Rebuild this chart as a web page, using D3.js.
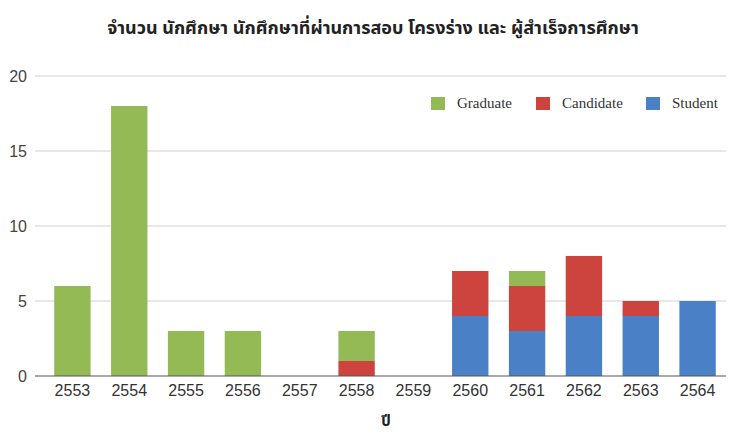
<!DOCTYPE html>
<html>
<head>
<meta charset="utf-8">
<script src="https://d3js.org/d3.v7.min.js"></script>
<style>
  body { margin: 0; background: #fff; }
</style>
</head>
<body>
<script>
var years = ["2553", "2554", "2555", "2556", "2557", "2558", "2559", "2560", "2561", "2562", "2563", "2564"];
var student   = [0, 0, 0, 0, 0, 0, 0, 4, 3, 4, 4, 5];
var candidate = [0, 0, 0, 0, 0, 1, 0, 3, 3, 4, 1, 0];
var graduate  = [6, 18, 3, 3, 0, 2, 0, 0, 1, 0, 0, 0];
var yTicks = [0, 5, 10, 15, 20];
var seriesNames = ["Student", "Candidate", "Graduate"];
var colors = { Student: "#4a80c6", Candidate: "#cc443d", Graduate: "#93ba55" };

var w = 729, h = 435;
var mLeft = 35, mRight = 726, mTop = 76, mBottom = 376;

var rows = years.map(function(yr, i) {
  return { year: yr, Student: student[i], Candidate: candidate[i], Graduate: graduate[i] };
});
var stack = d3.stack().keys(seriesNames)(rows);

var x = d3.scaleBand().domain(years).range([44, mRight]).paddingInner(0.36).paddingOuter(0.18);
var y = d3.scaleLinear().domain([0, 20]).range([mBottom, mTop]);

var svg = d3.select("body").append("svg").attr("width", w).attr("height", h);

// grid
svg.append("g").selectAll("line").data(yTicks.slice(1)).enter().append("line")
  .attr("x1", mLeft).attr("x2", mRight)
  .attr("y1", function(d){ return y(d); }).attr("y2", function(d){ return y(d); })
  .attr("stroke", "#d0d0d0").attr("stroke-width", 1);

// y labels
svg.append("g").selectAll("text").data(yTicks).enter().append("text")
  .attr("x", 27).attr("y", function(d){ return y(d); }).attr("dy", "0.35em")
  .attr("text-anchor", "end")
  .attr("font-family", "Liberation Sans, Arial, sans-serif").attr("font-size", "16px")
  .attr("fill", "#444").text(function(d){ return d; });

// bars
svg.append("g").selectAll("g").data(stack).enter().append("g")
  .attr("fill", function(d){ return colors[d.key]; })
  .selectAll("rect").data(function(d){ return d; }).enter().append("rect")
  .attr("x", function(d){ return x(d.data.year); })
  .attr("width", x.bandwidth())
  .attr("y", function(d){ return y(d[1]); })
  .attr("height", function(d){ return y(d[0]) - y(d[1]); });

// baseline
svg.append("line").attr("x1", mLeft).attr("x2", mRight)
  .attr("y1", mBottom).attr("y2", mBottom)
  .attr("stroke", "#555").attr("stroke-width", 1.2);

// x axis labels
var xAxis = d3.axisBottom(x).tickSize(0).tickPadding(9);
var xg = svg.append("g").attr("transform", "translate(0," + mBottom + ")").call(xAxis);
xg.select(".domain").remove();
xg.selectAll("text").attr("font-family", "Liberation Sans, Arial, sans-serif")
  .attr("font-size", "16px").attr("fill", "#333");

// title
svg.append("text").attr("x", 373).attr("y", 34)
  .attr("text-anchor", "middle")
  .attr("font-family", "Noto Sans Thai, Noto Sans, sans-serif")
  .attr("font-weight", "bold").attr("font-size", "18px").attr("fill", "#222")
  .text("จำนวน นักศึกษา นักศึกษาที่ผ่านการสอบ โครงร่าง และ ผู้สำเร็จการศึกษา");

// x axis title
svg.append("text").attr("x", 386).attr("y", 426)
  .attr("text-anchor", "middle")
  .attr("font-family", "Noto Sans Thai, Noto Sans, sans-serif")
  .attr("font-weight", "bold").attr("font-size", "15px").attr("fill", "#222")
  .text("ปี");

// legend
var legendItems = [
  { name: "Graduate", x: 431 },
  { name: "Candidate", x: 536 },
  { name: "Student", x: 646 }
];
var lg = svg.append("g").selectAll("g").data(legendItems).enter().append("g")
  .attr("transform", function(d){ return "translate(" + d.x + ",97)"; });
lg.append("rect").attr("width", 14).attr("height", 13)
  .attr("fill", function(d){ return colors[d.name]; });
lg.append("text").attr("x", 26).attr("y", 11)
  .attr("font-family", "Liberation Serif, Times New Roman, serif").attr("font-size", "15px")
  .attr("fill", "#333").text(function(d){ return d.name; });
</script>
</body>
</html>
